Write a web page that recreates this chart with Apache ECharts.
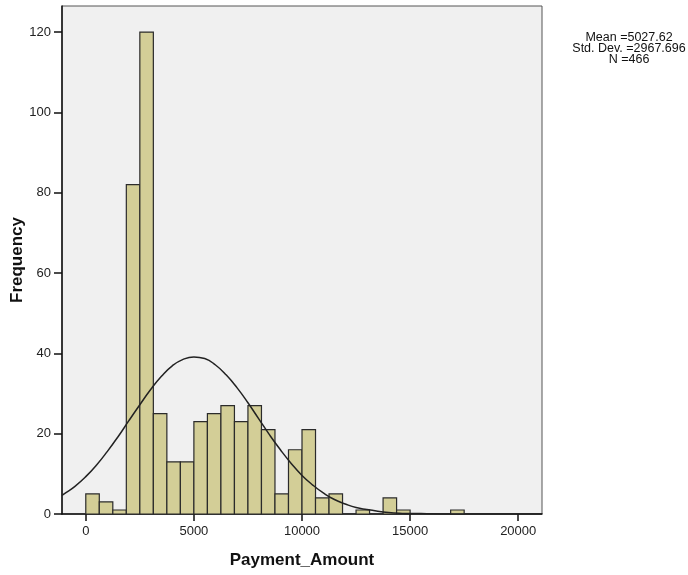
<!DOCTYPE html>
<html>
<head>
<meta charset="utf-8">
<script src="https://cdn.jsdelivr.net/npm/echarts@6/dist/echarts.min.js"></script>
<style>
html,body{margin:0;padding:0;background:#fff;}
#chart{width:688px;height:575px;}
</style>
</head>
<body>
<div id="chart"></div>
<script>
// Histogram bins (lower edge, upper edge) and frequencies
const binStarts = [0, 625, 1250, 1875, 2500, 3125, 3750, 4375, 5000, 5625, 6250, 6875, 7500, 8125, 8750, 9375, 10000, 10625, 11250, 11875, 12500, 13125, 13750, 14375, 15000, 15625, 16250, 16875];
const binEnds   = [625, 1250, 1875, 2500, 3125, 3750, 4375, 5000, 5625, 6250, 6875, 7500, 8125, 8750, 9375, 10000, 10625, 11250, 11875, 12500, 13125, 13750, 14375, 15000, 15625, 16250, 16875, 17500];
const frequencies = [5, 3, 1, 82, 120, 25, 13, 13, 23, 25, 27, 23, 27, 21, 5, 16, 21, 4, 5, 0, 1, 0, 4, 1, 0, 0, 0, 1];

// Normal curve
const curveX = [-1100, -1000, -500, 0, 500, 1000, 1500, 2000, 2500, 3000, 3500, 4000, 4500, 5000, 5500, 6000, 6500, 7000, 7500, 8000, 8500, 9000, 9500, 10000, 10500, 11000, 11500, 12000, 12500, 13000, 13500, 14000, 14500, 15000, 15500, 16000, 16500, 17000, 18000, 19000, 20000, 21100];
const curveY = [4.6, 5.0, 6.9, 9.3, 12.2, 15.6, 19.3, 23.3, 27.2, 31.0, 34.3, 36.9, 38.5, 39.1, 38.7, 37.1, 34.6, 31.4, 27.7, 23.7, 19.7, 16.0, 12.6, 9.6, 7.2, 5.2, 3.6, 2.5, 1.6, 1.1, 0.7, 0.4, 0.2, 0.1, 0.1, 0.04, 0.02, 0.01, 0, 0, 0, 0];

// Axis ticks
const xTicks = [0, 5000, 10000, 15000, 20000];
const yTicks = [0, 20, 40, 60, 80, 100, 120];

// Titles and summary statistics
const xTitle = 'Payment_Amount';
const yTitle = 'Frequency';
const statLines = ['Mean =5027.62', 'Std. Dev. =2967.696', 'N =466'];

const chart = echarts.init(document.getElementById('chart'), null, {renderer: 'canvas'});
const FONT = '"Liberation Sans", Arial, sans-serif';

const barData = binStarts.map((s, i) => [s, binEnds[i], frequencies[i]]);
const lineData = curveX.map((x, i) => [x, curveY[i]]);

chart.setOption({
  animation: false,
  backgroundColor: '#ffffff',
  grid: {
    left: 62, top: 6, right: 146, bottom: 61,
    outerBoundsMode: 'none', containLabel: false,
    show: true, backgroundColor: '#f0f0f0', borderColor: '#555555', borderWidth: 1
  },
  xAxis: {
    type: 'value', min: -1100, max: 21100,
    name: xTitle, nameLocation: 'middle', nameGap: 38,
    nameTextStyle: {fontFamily: FONT, fontSize: 17, fontWeight: 'bold', color: '#111'},
    axisLine: {show: true, onZero: false, lineStyle: {color: '#111', width: 1.5}},
    axisTick: {show: true, length: 7, customValues: xTicks, lineStyle: {color: '#111', width: 1.5}},
    axisLabel: {customValues: xTicks, margin: 11, fontFamily: FONT, fontSize: 13, color: '#222',
      formatter: v => String(v)},
    splitLine: {show: false}
  },
  yAxis: {
    type: 'value', min: 0, max: 126.5,
    axisLine: {show: true, onZero: false, lineStyle: {color: '#111', width: 1.5}},
    axisTick: {show: true, length: 8, customValues: yTicks, lineStyle: {color: '#111', width: 1.5}},
    axisLabel: {customValues: yTicks, margin: 11, fontFamily: FONT, fontSize: 13, color: '#222',
      formatter: v => String(v)},
    splitLine: {show: false}
  },
  graphic: [{
    type: 'text', x: 629, y: 32,
    style: {
      text: statLines.join('\n'), fontFamily: FONT, fontSize: 12.5, lineHeight: 11,
      fill: '#111', align: 'center', verticalAlign: 'top'
    }
  }, {
    type: 'text', x: 17, y: 260, rotation: Math.PI / 2,
    style: {
      text: yTitle, fontFamily: FONT, fontSize: 17, fontWeight: 'bold',
      fill: '#111', align: 'center', verticalAlign: 'middle'
    }
  }],
  series: [{
    type: 'custom',
    coordinateSystem: 'cartesian2d',
    data: barData,
    encode: {x: [0, 1], y: 2},
    renderItem: function (params, api) {
      const h = api.value(2);
      if (!h) return null;
      const p0 = api.coord([api.value(0), h]);
      const p1 = api.coord([api.value(1), 0]);
      return {
        type: 'rect',
        shape: {x: p0[0], y: p0[1], width: p1[0] - p0[0], height: p1[1] - p0[1]},
        style: {fill: '#d3ce97', stroke: '#2b2b2b', lineWidth: 1.2}
      };
    },
    z: 2
  }, {
    type: 'line',
    data: lineData,
    smooth: true,
    showSymbol: false,
    lineStyle: {color: '#222', width: 1.5},
    z: 3
  }]
});
</script>
</body>
</html>
